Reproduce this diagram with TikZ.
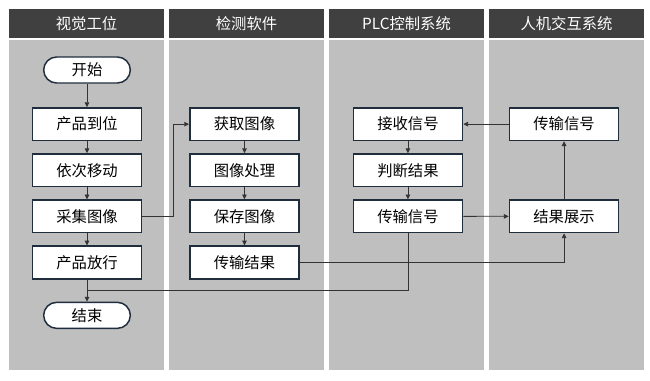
\documentclass[tikz,border=0pt]{standalone}
\usepackage{fontspec}
\newfontfamily\cjk{Noto Sans CJK SC}
\usepackage{tikz}
\usetikzlibrary{positioning,arrows.meta,calc}

\definecolor{laneHead}{HTML}{404040}
\definecolor{laneBody}{HTML}{BFBFBF}
\definecolor{boxLine}{HTML}{1F2D3D}
\definecolor{linkLine}{HTML}{333333}

\begin{document}
\begin{tikzpicture}[
    x=0.75pt, y=-0.75pt,
    node distance=9pt,
    box/.style={draw=boxLine, line width=1.1pt, fill=white, rectangle,
        minimum width=82pt, minimum height=24.5pt, inner sep=0pt,
        font=\cjk\fontsize{11.5}{13}\selectfont},
    term/.style={box, minimum width=65pt, minimum height=19.5pt, rounded corners=9.75pt},
    link/.style={linkLine, line width=0.6pt},
    >={Triangle[length=3.6pt,width=3.4pt]}
]

% Page
\useasboundingbox[fill=white] (0,0) rectangle (650,380);

% Lanes
\foreach \i/\name in {0/视觉工位, 1/检测软件, 2/PLC控制系统, 3/人机交互系统} {
    \fill[laneHead] (9+160*\i,9) rectangle (164+160*\i,38);
    \fill[laneBody] (9+160*\i,40) rectangle (164+160*\i,370);
    \node[text=white, font=\cjk\fontsize{11.5}{13}\selectfont] (lane\i) at (86.5+160*\i,23.5) {\name};
}

% Vision station
\node[term] (start) at (87,70) {开始};
\node[box, below=17.5pt of start] (arrive) {产品到位};
\node[box, below=of arrive] (move) {依次移动};
\node[box, below=of move] (grab) {采集图像};
\node[box, below=of grab] (release) {产品放行};
\node[term, below=16.5pt of release] (finish) {结束};

% Inspection software
\node[box, right=35pt of arrive] (fetch) {获取图像};
\node[box, below=of fetch] (process) {图像处理};
\node[box, below=of process] (save) {保存图像};
\node[box, below=of save] (sendres) {传输结果};

% PLC
\node[box, right=39.5pt of fetch] (receive) {接收信号};
\node[box, below=of receive] (judge) {判断结果};
\node[box, below=of judge] (plcsend) {传输信号};

% HMI
\node[box, right=34pt of receive] (hmisend) {传输信号};
\node[box, below=43.5pt of hmisend] (show) {结果展示};

% Arrows
\draw[->, link] (start) -- (arrive);
\draw[->, link] (arrive) -- (move);
\draw[->, link] (move) -- (grab);
\draw[->, link] (grab) -- (release);
\draw[->, link] (release) -- (finish);

\draw[->, link] (fetch) -- (process);
\draw[->, link] (process) -- (save);
\draw[->, link] (save) -- (sendres);

\draw[->, link] (receive) -- (judge);
\draw[->, link] (judge) -- (plcsend);

\draw[->, link] (grab.east) -- ++(31,0) |- (fetch.west);
\draw[->, link] (sendres.east) -| (show.south);
\draw[->, link] (plcsend) -- (show);
\draw[->, link] (show) -- (hmisend);
\draw[->, link] (hmisend) -- (receive);

\coordinate (join) at ($(release.south)!0.5!(finish.north)$);
\draw[link] (plcsend.south) |- (join);

\end{tikzpicture}
\end{document}
